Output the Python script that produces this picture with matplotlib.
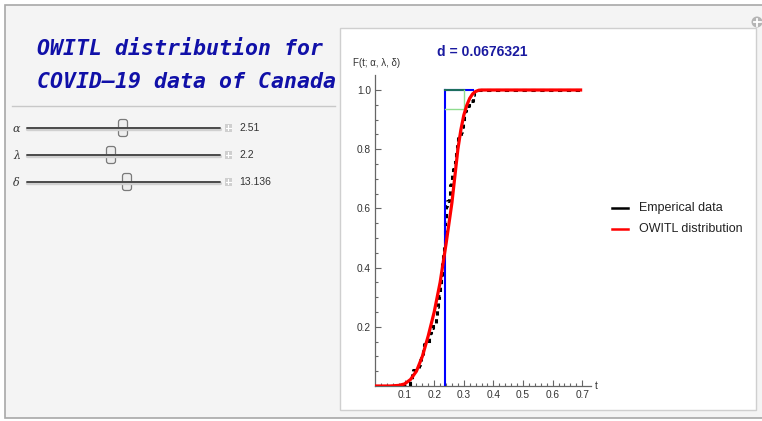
import numpy as np
import matplotlib
matplotlib.use("Agg")
import matplotlib.pyplot as plt
from matplotlib.patches import Rectangle, FancyBboxPatch, Circle

# ---------------- data ----------------
# empirical sample (sorted), read from the step plot
sample = [0.118, 0.125, 0.127, 0.148, 0.152, 0.157, 0.162, 0.165, 0.182, 0.186,
          0.190, 0.195, 0.205, 0.208, 0.211, 0.213, 0.216, 0.218, 0.220, 0.222,
          0.224, 0.226, 0.228, 0.229, 0.230, 0.232, 0.233, 0.235, 0.236, 0.237,
          0.238, 0.239, 0.240, 0.241, 0.243, 0.250, 0.252, 0.254, 0.257, 0.260,
          0.263, 0.266, 0.269, 0.272, 0.275, 0.278, 0.280, 0.290, 0.293, 0.297,
          0.300, 0.303, 0.306, 0.318, 0.330, 0.336]
# fitted OWITL CDF
fit_t = [0.0, 0.05, 0.08, 0.10, 0.12, 0.14, 0.16, 0.18, 0.20, 0.22, 0.24, 0.26,
         0.28, 0.29, 0.30, 0.31, 0.32, 0.33, 0.34, 0.35, 0.36, 0.40, 0.70]
fit_F = [0.0, 0.0, 0.002, 0.007, 0.022, 0.050, 0.100, 0.170, 0.250, 0.350, 0.480, 0.620,
         0.800, 0.865, 0.915, 0.948, 0.972, 0.987, 0.995, 0.999, 1.0, 1.0, 1.0]
# KS distance marker
ks_t = 0.236
ks_t2 = 0.300
ks_low = 0.935
d_stat = "0.0676321"
x_ticks = [0.1, 0.2, 0.3, 0.4, 0.5, 0.6, 0.7]
y_ticks = [0.2, 0.4, 0.6, 0.8, 1.0]
params = [("α", "2.51", 123), ("λ", "2.2", 111), ("δ", "13.136", 127)]
legend_labels = ["Emperical data", "OWITL distribution"]

# ---------------- figure ----------------
W, H = 762, 421
fig = plt.figure(figsize=(W / 100, H / 100), dpi=100)
fig.patch.set_facecolor("white")
bg = fig.add_axes([0, 0, 1, 1])
bg.set_xlim(0, W)
bg.set_ylim(H, 0)
bg.axis("off")
bg.set_zorder(0)

# outer frame
bg.add_patch(Rectangle((5, 5), W, 413, fc="#f4f4f4", ec="#a8a8a8", lw=1.2))
# white plot panel
bg.add_patch(Rectangle((340, 28), 416, 382, fc="white", ec="#cfcfcf", lw=1.0))
# corner icon
bg.add_patch(Circle((757, 22), 5.5, fc="#b4b4b4", ec="none"))
bg.plot([753.5, 760.5], [22, 22], color="white", lw=1.3)
bg.plot([757, 757], [18.5, 25.5], color="white", lw=1.3)

# left title
title_kw = dict(family="DejaVu Sans Mono", weight="bold", style="italic",
                fontsize=15.5, color="#1010a8", va="baseline", ha="left")
bg.text(37, 55, "OWITL distribution for", **title_kw)
bg.text(37, 88, "COVID\u201319 data of Canada", **title_kw)
bg.plot([12, 335], [106, 106], color="#c8c8c8", lw=1.0)

# sliders
for i, (sym, val, thumb_x) in enumerate(params):
    y = 128 + i * 27
    bg.text(13, y + 1, sym, style="italic", family="DejaVu Serif", fontsize=8,
            color="#333333", va="center", ha="left")
    bg.plot([27, 220], [y + 1.2, y + 1.2], color="#d0d0d0", lw=2.4, solid_capstyle="round")
    bg.plot([27, 220], [y, y], color="#4a4a4a", lw=1.4, solid_capstyle="round")
    bg.add_patch(FancyBboxPatch((thumb_x - 4.5, y - 8.5), 9, 17,
                                boxstyle="round,pad=0,rounding_size=2.5",
                                fc="#eeeeee", ec="#7a7a7a", lw=0.9))
    bg.add_patch(Rectangle((224.5, y - 4), 7.5, 7.5, fc="#cfcfcf", ec="none"))
    bg.plot([225.8, 230.8], [y - 0.25, y - 0.25], color="white", lw=0.8)
    bg.plot([228.25, 228.25], [y - 2.8, y + 2.3], color="white", lw=0.8)
    bg.text(239, y, val, family="Liberation Sans", fontsize=7.5, color="#333333",
            va="center", ha="left")

# ---------------- plot axes ----------------
px_per = 296.0
x0, y0 = 375.0, 386.0
xmax, ymax = 0.73, 1.05
ax = fig.add_axes([x0 / W, (H - y0) / H, xmax * px_per / W, ymax * px_per / H])
ax.set_zorder(2)
ax.patch.set_alpha(0)
ax.set_xlim(0, xmax)
ax.set_ylim(0, ymax)
for s in ["top", "right"]:
    ax.spines[s].set_visible(False)
for s in ["left", "bottom"]:
    ax.spines[s].set_color("#666666")
    ax.spines[s].set_linewidth(0.9)
ax.set_xticks(x_ticks)
ax.set_xticklabels([f"{v:.1f}" for v in x_ticks])
ax.set_yticks(y_ticks)
ax.set_yticklabels([f"{v:.1f}" for v in y_ticks])
ax.set_xticks(np.arange(0.02, 0.72, 0.02), minor=True)
ax.set_yticks(np.arange(0.05, 1.05, 0.05), minor=True)
ax.tick_params(which="both", direction="in", colors="#666666", labelcolor="#333333",
               labelsize=7.3, width=0.8)
ax.tick_params(which="major", length=4.5, pad=3)
ax.tick_params(which="minor", length=2.5)
for lab in ax.get_xticklabels() + ax.get_yticklabels():
    lab.set_family("Liberation Sans")

# empirical CDF
n = len(sample)
ex = [0.0] + sample + [0.70]
ey = [0.0] + list(np.arange(1, n + 1) / n) + [1.0]
ax.step(ex, ey, where="post", color="black", lw=2.2, dashes=(1.4, 1.5), zorder=3)
# KS markers
ax.plot([ks_t, ks_t], [0, 1.0], color="#0000ff", lw=1.5, zorder=4)
ax.plot([ks_t, 0.33], [1.0, 1.0], color="#0000ff", lw=1.5, zorder=4)
ax.plot([ks_t, ks_t2], [1.0, 1.0], color="#1d6e5e", lw=1.5, zorder=4)
ax.plot([ks_t, ks_t2], [ks_low, ks_low], color="#8fdc8f", lw=1.0, zorder=4)
ax.plot([ks_t2, ks_t2], [ks_low, 1.0], color="#8fdc8f", lw=1.0, zorder=4)
# fitted curve
ax.plot(fit_t, fit_F, color="#ff0000", lw=2.3, zorder=5, solid_capstyle="butt")

# axis labels & title
bg.text(377, 63, "F(t; α, λ, δ)", family=["Liberation Sans", "DejaVu Sans"],
        fontsize=7, color="#333333", ha="center", va="center")
bg.text(596, 386, "t", family="Liberation Sans", fontsize=7.3, color="#333333",
        ha="center", va="center")
bg.text(482, 52, "d = " + d_stat, family="Liberation Sans", weight="bold",
        fontsize=10, color="#1a1aa0", ha="center", va="center")

# legend
for i, (lab, col) in enumerate(zip(legend_labels, ["black", "#ff0000"])):
    y = 208 + i * 21
    bg.plot([612, 628], [y, y], color=col, lw=1.8)
    bg.text(639, y, lab, family="Liberation Sans", fontsize=9, color="#222222",
            va="center", ha="left")

fig.savefig("out.png", dpi=100, facecolor=fig.get_facecolor())
